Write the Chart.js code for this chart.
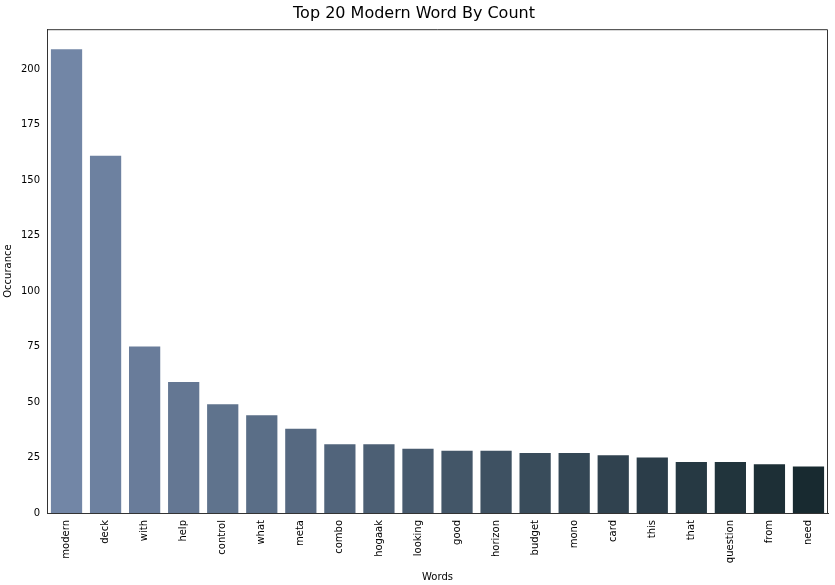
<!DOCTYPE html>
<html>
<head>
<meta charset="utf-8">
<script src="https://cdn.jsdelivr.net/npm/chart.js@4"></script>
<style>
  body { margin: 0; background: #fff; }
  #wrap { width: 835px; height: 585px; }
</style>
</head>
<body>
<div id="wrap"><canvas id="c"></canvas></div>
<script>
const words = ['modern', 'deck', 'with', 'help', 'control', 'what', 'meta', 'combo', 'hogaak', 'looking',
  'good', 'horizon', 'budget', 'mono', 'card', 'this', 'that', 'question', 'from', 'need'];
const counts = [209, 161, 75, 59, 49, 44, 38, 31, 31, 29, 28, 28, 27, 27, 26, 25, 23, 23, 22, 21];
const yTicks = [0, 25, 50, 75, 100, 125, 150, 175, 200];

// dark blue-grey gradient, light to dark
const start = [114, 134, 166], end = [24, 42, 48];
const colors = words.map((w, i) => {
  const t = i / (words.length - 1);
  const c = start.map((s, k) => Math.round(s + (end[k] - s) * t));
  return `rgb(${c[0]},${c[1]},${c[2]})`;
});

Chart.defaults.font.family = 'DejaVu Sans';
Chart.defaults.color = '#222';

new Chart(document.getElementById('c'), {
  type: 'bar',
  data: {
    labels: words,
    datasets: [{ data: counts, backgroundColor: colors, categoryPercentage: 0.8, barPercentage: 1.0 }]
  },
  options: {
    responsive: true,
    maintainAspectRatio: false,
    animation: false,
    layout: { padding: { right: 7 } },
    plugins: {
      legend: { display: false },
      tooltip: { enabled: false },
      title: {
        display: true,
        text: 'Top 20 Modern Word By Count',
        font: { size: 16, weight: 'normal' },
        color: '#000',
        padding: { top: 4, bottom: 6 }
      }
    },
    scales: {
      x: {
        grid: { display: false, drawTicks: true, tickLength: 4, tickColor: '#333' },
        border: { color: '#333' },
        ticks: { maxRotation: 90, minRotation: 90, font: { size: 10 }, color: '#000' },
        title: { display: true, text: 'Words', font: { size: 10 }, color: '#000', padding: 2 },
        afterFit: s => { s.height = 72; }
      },
      y: {
        min: 0,
        max: 218,
        grid: { display: false, drawTicks: true, tickLength: 4, tickColor: '#333' },
        border: { color: '#333' },
        afterBuildTicks: s => { s.ticks = yTicks.map(v => ({ value: v })); },
        ticks: { font: { size: 10 }, color: '#000' },
        title: { display: true, text: 'Occurance', font: { size: 10 }, color: '#000', padding: 2 },
        afterFit: s => { s.width = 47; }
      }
    }
  },
  plugins: [{
    id: 'box',
    afterDraw(chart) {
      const { ctx, chartArea: a } = chart;
      ctx.save();
      ctx.strokeStyle = '#333';
      ctx.lineWidth = 1;
      ctx.beginPath();
      ctx.moveTo(a.left, a.top + 0.5);
      ctx.lineTo(a.right - 0.5, a.top + 0.5);
      ctx.lineTo(a.right - 0.5, a.bottom);
      ctx.stroke();
      ctx.restore();
    }
  }]
});
</script>
</body>
</html>
